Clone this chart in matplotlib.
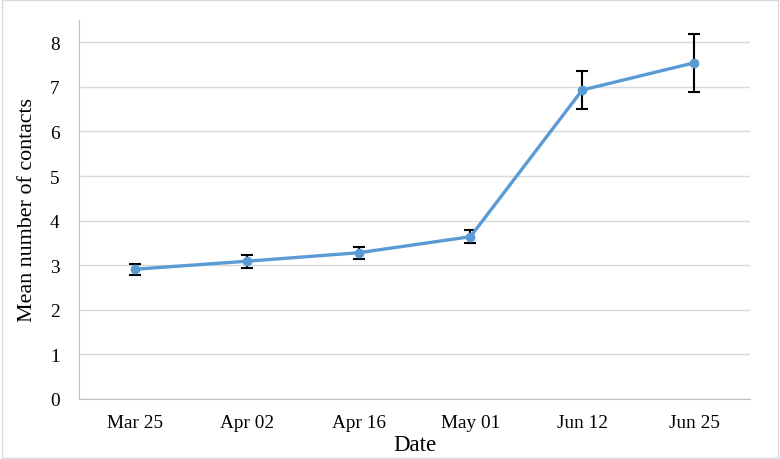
import matplotlib
matplotlib.use("Agg")
import matplotlib.pyplot as plt
import numpy as np

# data
dates = ["Mar 25", "Apr 02", "Apr 16", "May 01", "Jun 12", "Jun 25"]
mean_contacts = [2.91, 3.09, 3.28, 3.64, 6.93, 7.54]
err = [0.12, 0.15, 0.14, 0.15, 0.43, 0.65]

plt.rcParams['font.family'] = ['Liberation Serif', 'DejaVu Serif']

fig = plt.figure(figsize=(7.8, 4.6), dpi=100)
ax = fig.add_axes([79/780, 60/460, (750-79)/780, (400-21)/460])

x = np.arange(len(dates))
ax.errorbar(x, mean_contacts, yerr=err, color="#5B9BD5", linewidth=2.4,
            marker="o", markersize=6, ecolor="black", elinewidth=1.5,
            capsize=4, capthick=1.5, zorder=3)

ax.set_xlim(-0.5, len(dates) - 0.5)
ax.set_ylim(0, 8.5)
ax.set_yticks(range(0, 9))
ax.set_xticks(x)
ax.set_xticklabels(dates)
ax.tick_params(axis="both", length=0, labelsize=13.9, colors="black")
ax.tick_params(axis="y", pad=14)
ax.tick_params(axis="x", pad=11)
ax.yaxis.grid(True, color="#d9d9d9", linewidth=1)
ax.set_axisbelow(True)
for s in ["top", "right"]:
    ax.spines[s].set_visible(False)
for s in ["left", "bottom"]:
    ax.spines[s].set_color("#bfbfbf")
ax.set_ylabel("Mean number of contacts", fontsize=15.8, labelpad=9)
ax.set_xlabel("Date", fontsize=16.5, labelpad=2)

# light frame around the whole chart
fig.patches.append(plt.Rectangle((0.002, 0.003), 0.996, 0.994, transform=fig.transFigure,
                                 fill=False, edgecolor="#d9d9d9", linewidth=1))

fig.savefig("out.png", dpi=100)
